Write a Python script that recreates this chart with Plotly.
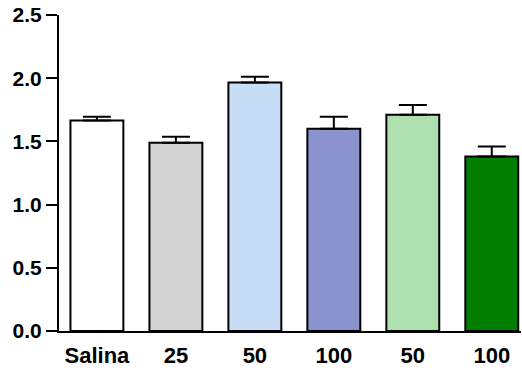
import plotly.graph_objects as go

categories = ["Salina", "25", "50", "100", "50", "100"]
means = [1.665, 1.49, 1.965, 1.60, 1.71, 1.38]
sems = [0.03, 0.047, 0.047, 0.095, 0.077, 0.079]
colors = ["#FFFFFF", "#D3D3D3", "#C8DEF6", "#8B93CE", "#AEDFAF", "#007F00"]
y_ticks = [0.0, 0.5, 1.0, 1.5, 2.0, 2.5]
y_ticktext = ["0.0", "0.5", "1.0", "1.5", "2.0", "2.5"]

xpos = list(range(len(categories)))

fig = go.Figure()
fig.add_trace(go.Bar(
    x=xpos, y=means, width=0.67,
    marker=dict(color=colors, line=dict(color="black", width=2)),
    error_y=dict(type="data", symmetric=False, array=sems, arrayminus=[0]*len(sems),
                 color="black", thickness=2, width=14),
    showlegend=False,
    cliponaxis=False,
))

xfont = dict(family="Liberation Sans, Arial, sans-serif", size=22, color="black")
yfont = dict(family="Liberation Sans, Arial, sans-serif", size=21, color="black")
fig.update_layout(
    width=522, height=372,
    margin=dict(l=59, r=1, t=15, b=41, autoexpand=False),
    paper_bgcolor="white", plot_bgcolor="white",
    xaxis=dict(range=[-0.48, 5.37], tickvals=xpos, ticktext=["<b>%s</b>" % c for c in categories],
               showline=True, linecolor="black", linewidth=2, ticks="", showgrid=False,
               zeroline=False, tickfont=xfont, automargin=False, ticklabelstandoff=4),
    yaxis=dict(range=[0, 2.5], tickvals=y_ticks, ticktext=["<b>%s</b>" % t for t in y_ticktext],
               showline=True, linecolor="black", linewidth=2, ticks="outside", ticklen=11,
               tickwidth=2, tickcolor="black", showgrid=False, zeroline=False, tickfont=yfont,
               automargin=False),
)
fig.write_html("out.html", config={"displayModeBar": False},
               post_script="document.body.style.margin='0px';document.body.style.overflow='hidden';")
